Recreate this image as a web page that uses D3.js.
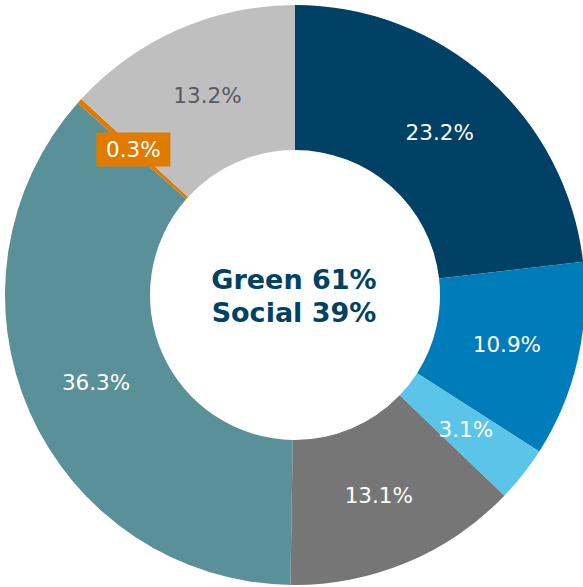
<!DOCTYPE html>
<html>
<head>
<meta charset="utf-8">
<script src="https://cdn.jsdelivr.net/npm/d3@7.9.0/dist/d3.min.js"></script>
<style>
  html, body { margin: 0; padding: 0; background: #fff; }
  svg text { font-family: "DejaVu Sans", Verdana, sans-serif; }
</style>
</head>
<body>
<svg id="chart" width="583" height="587"></svg>
<script>
// slice values, clockwise from 12 o'clock
const labels = ['23.2%', '10.9%', '3.1%', '13.1%', '36.3%', '0.3%', '13.2%'];
const values = [23.2, 10.9, 3.1, 13.1, 36.3, 0.3, 13.2];
const colors = ['#004165', '#007CBA', '#5BC5E9', '#767676', '#5A9199', '#E07B00', '#BFBFBF'];
const centerLines = ['Green 61%', 'Social 39%'];

const cx = 295, cy = 295;
const outerR = 290, innerR = 145;

const svg = d3.select('#chart');
const g = svg.append('g').attr('transform', `translate(${cx},${cy})`);

const pie = d3.pie().value(d => d).sort(null);
const arcData = pie(values);
const arc = d3.arc().innerRadius(innerR).outerRadius(outerR);

g.selectAll('path')
  .data(arcData)
  .enter()
  .append('path')
  .attr('d', arc)
  .attr('fill', (d, i) => colors[i]);

// labels at the centroid of each slice
arcData.forEach((d, i) => {
  const [x, y] = arc.centroid(d);
  if (labels[i] === '0.3%') {
    g.append('rect')
      .attr('x', x - 37).attr('y', y - 17)
      .attr('width', 74).attr('height', 34)
      .attr('fill', colors[i]);
  }
  g.append('text')
    .attr('x', x).attr('y', y)
    .attr('text-anchor', 'middle')
    .attr('dominant-baseline', 'central')
    .attr('font-size', 21.5)
    .attr('fill', labels[i] === '13.2%' ? '#595959' : '#fff')
    .text(labels[i]);
});

centerLines.forEach((t, i) => {
  g.append('text')
    .attr('x', -1).attr('y', -16 + i * 33)
    .attr('text-anchor', 'middle')
    .attr('dominant-baseline', 'central')
    .attr('font-size', 27)
    .attr('font-weight', 'bold')
    .attr('fill', '#004165')
    .text(t);
});
</script>
</body>
</html>
